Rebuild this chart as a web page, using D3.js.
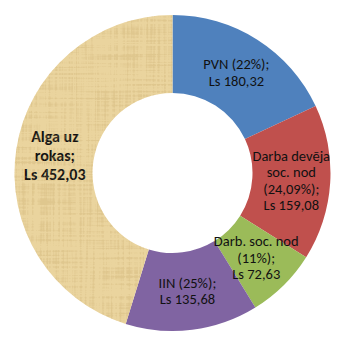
<!DOCTYPE html>
<html>
<head>
<meta charset="utf-8">
<script src="https://cdn.jsdelivr.net/npm/d3@7"></script>
<style>
  body { margin: 0; background: #fff; }
  svg { display: block; }
  text { font-family: Carlito, Calibri, "Liberation Sans Narrow", "Liberation Sans", sans-serif; fill: #111; }
</style>
</head>
<body>
<svg id="chart" width="347" height="343"></svg>
<script>
const categories = ["PVN", "Darba devēja soc. nod", "Darb. soc. nod", "IIN", "Alga uz rokas"];
const values = [180.32, 159.08, 72.63, 135.68, 452.03];
const labelLines = [
    ["PVN (22%);", "Ls 180,32"],
    ["Darba devēja", "soc. nod", "(24,09%);", "Ls 159,08"],
    ["Darb. soc. nod", "(11%);", "Ls 72,63"],
    ["IIN (25%);", "Ls 135,68"],
    ["Alga uz", "rokas;", "Ls 452,03"]
];
const colors = ["#4f81bd", "#c0504d", "#9bbb59", "#8064a2", "#ead49e"];

const svg = d3.select("svg#chart");
const cx = 172.5, cy = 173;
const outerR = 158, innerR = 80;

// papyrus-like fibre texture, clipped to the last slice
const defs = svg.append("defs");
const filt = defs.append("filter")
    .attr("id", "fibers")
    .attr("filterUnits", "userSpaceOnUse")
    .attr("x", 0).attr("y", 0).attr("width", 347).attr("height", 343)
    .attr("color-interpolation-filters", "sRGB");
filt.append("feTurbulence")
    .attr("type", "fractalNoise")
    .attr("baseFrequency", "0.012 0.45")
    .attr("numOctaves", 2)
    .attr("seed", 3)
    .attr("result", "v");
filt.append("feTurbulence")
    .attr("type", "fractalNoise")
    .attr("baseFrequency", "0.45 0.012")
    .attr("numOctaves", 2)
    .attr("seed", 7)
    .attr("result", "h");
filt.append("feComposite")
    .attr("in", "v").attr("in2", "h")
    .attr("operator", "arithmetic")
    .attr("k2", 0.5).attr("k3", 0.5)
    .attr("result", "n");
filt.append("feColorMatrix")
    .attr("in", "n")
    .attr("type", "matrix")
    .attr("values", "0 0 0 0 0.78  0 0 0 0 0.66  0 0 0 0 0.42  6 0 0 0 -2.9");

const pie = d3.pie()
    .sort(null)
    .value(d => d);

const arc = d3.arc()
    .innerRadius(innerR)
    .outerRadius(outerR);

const g = svg.append("g")
    .attr("transform", `translate(${cx},${cy})`);

const arcs = pie(values);

g.selectAll("path")
    .data(arcs)
    .join("path")
        .attr("d", arc)
        .attr("fill", (d, i) => colors[i]);

defs.append("clipPath")
    .attr("id", "algaClip")
    .append("path")
        .attr("transform", `translate(${cx},${cy})`)
        .attr("d", arc(arcs[4]));

svg.append("rect")
    .attr("width", 347).attr("height", 343)
    .attr("clip-path", "url(#algaClip)")
    .attr("filter", "url(#fibers)")
    .attr("opacity", 0.3);

// labels at slice centroids
const labels = g.selectAll("text.lbl")
    .data(arcs)
    .join("text")
        .attr("class", "lbl")
        .attr("text-anchor", "middle")
        .attr("font-size", (d, i) => i == 4 ? 16 : 14.5)
        .attr("font-weight", (d, i) => i == 4 ? "bold" : "normal")
        .attr("transform", d => {
            const c = arc.centroid(d);
            return `translate(${c[0]},${c[1]})`;
        });

labels.each(function(d, i) {
    const lines = labelLines[i];
    const lh = i == 4 ? 19 : 16.5;
    const start = -(lines.length - 1) * lh / 2;
    d3.select(this).selectAll("tspan")
        .data(lines)
        .join("tspan")
            .attr("x", 0)
            .attr("y", (t, j) => start + j * lh)
            .attr("dy", "0.35em")
            .text(t => t);
});
</script>
</body>
</html>
